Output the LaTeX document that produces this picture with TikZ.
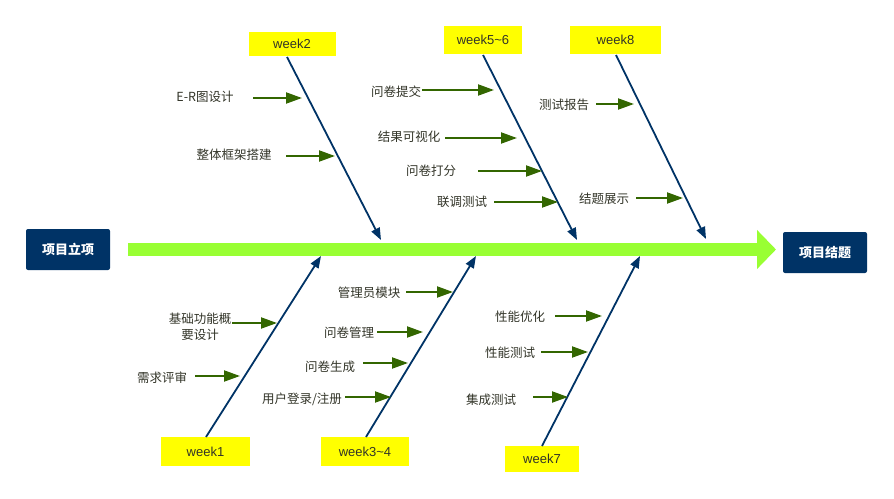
\documentclass[tikz,border=0pt]{standalone}
\usepackage{fontspec}
\setmainfont{Liberation Sans}
\newfontfamily\cjk{Noto Sans CJK SC}
\usetikzlibrary{arrows.meta}

\definecolor{navy}{RGB}{0,51,102}
\definecolor{spinegreen}{RGB}{153,255,51}
\definecolor{arrowgreen}{RGB}{51,102,0}
\definecolor{weekyellow}{RGB}{255,255,0}
\definecolor{labeltext}{RGB}{50,52,40}

\tikzset{
  endbox/.style={fill=navy, rounded corners=2pt, minimum width=84pt, minimum height=41pt,
    inner sep=0pt, text=white, font=\cjk\bfseries\fontsize{13pt}{15pt}\selectfont},
  weekbox/.style={fill=weekyellow, inner sep=0pt, text=labeltext,
    font=\fontsize{13pt}{15pt}\selectfont},
  cause/.style={inner sep=0pt, text=labeltext, align=center,
    font=\cjk\fontsize{12.5pt}{16pt}\selectfont},
  bone/.style={draw=navy, line width=1.8pt, -{Triangle[length=12pt,width=9pt]}},
  causearrow/.style={draw=arrowgreen, line width=2pt, -{Triangle[length=16pt,width=11pt]}},
  spine/.style={draw=spinegreen, line width=13pt, -{Triangle[length=19pt,width=38pt]}}
}

\begin{document}
\begin{tikzpicture}[x=1pt,y=-1pt]
\useasboundingbox (0,0) rectangle (894,498);

% start and end of the project
\node[endbox] (start) at (68,249.5) {项目立项};
\node[endbox] (finish) at (825,252.5) {项目结题};

% main spine
\coordinate (sp1) at (128,249.5);
\coordinate (sp2) at (776,249.5);
\draw[spine] (sp1) -- (sp2);

% week labels
\node[weekbox, minimum width=87pt, minimum height=24pt] (w2) at (292,44) {week2};
\node[weekbox, minimum width=78pt, minimum height=28pt] (w56) at (483,40) {week5\textasciitilde 6};
\node[weekbox, minimum width=91pt, minimum height=28pt] (w8) at (615.5,40) {week8};
\node[weekbox, minimum width=89pt, minimum height=29pt] (w1) at (205.5,451.5) {week1};
\node[weekbox, minimum width=88pt, minimum height=29pt] (w34) at (365,451.5) {week3\textasciitilde 4};
\node[weekbox, minimum width=74pt, minimum height=26pt] (w7) at (542,459) {week7};

% bones: from each week box toward the spine
\coordinate (b2a) at (287,57);   \coordinate (b2b) at (381,240);
\coordinate (b56a) at (483,55);  \coordinate (b56b) at (577,240);
\coordinate (b8a) at (616,55);   \coordinate (b8b) at (706,239);
\coordinate (b1a) at (206,437);  \coordinate (b1b) at (321,256);
\coordinate (b34a) at (366,437); \coordinate (b34b) at (476,256);
\coordinate (b7a) at (542,446);  \coordinate (b7b) at (640,256);
\draw[bone] (b2a) -- (b2b);
\draw[bone] (b56a) -- (b56b);
\draw[bone] (b8a) -- (b8b);
\draw[bone] (b1a) -- (b1b);
\draw[bone] (b34a) -- (b34b);
\draw[bone] (b7a) -- (b7b);

% causes above the spine
\node[cause] (c1) at (205,97) {E-R图设计};
\node[cause] (c2) at (234,155) {整体框架搭建};
\node[cause] (c3) at (396,92) {问卷提交};
\node[cause] (c4) at (409,137) {结果可视化};
\node[cause] (c5) at (431,171) {问卷打分};
\node[cause] (c6) at (462,202) {联调测试};
\node[cause] (c7) at (564,105) {测试报告};
\node[cause] (c8) at (604,199) {结题展示};

% causes below the spine
\node[cause] (d1) at (200,327) {基础功能概\\要设计};
\node[cause] (d2) at (162,378) {需求评审};
\node[cause] (d3) at (302,399) {用户登录/注册};
\node[cause] (d4) at (330,367) {问卷生成};
\node[cause] (d5) at (349,333) {问卷管理};
\node[cause] (d6) at (369,293) {管理员模块};
\node[cause] (d7) at (520,317) {性能优化};
\node[cause] (d8) at (510,353) {性能测试};
\node[cause] (d9) at (491,400) {集成测试};

% arrow ends for the causes
\coordinate (c1a) at (253,98);  \coordinate (c1b) at (302,98);
\coordinate (c2a) at (286,156); \coordinate (c2b) at (335,156);
\coordinate (c3a) at (422,90);  \coordinate (c3b) at (494,90);
\coordinate (c4a) at (445,138); \coordinate (c4b) at (517,138);
\coordinate (c5a) at (478,171); \coordinate (c5b) at (542,171);
\coordinate (c6a) at (494,202); \coordinate (c6b) at (558,202);
\coordinate (c7a) at (596,104); \coordinate (c7b) at (634,104);
\coordinate (c8a) at (636,198); \coordinate (c8b) at (683,198);
\coordinate (d1a) at (232,323); \coordinate (d1b) at (277,323);
\coordinate (d2a) at (195,376); \coordinate (d2b) at (240,376);
\coordinate (d3a) at (345,397); \coordinate (d3b) at (391,397);
\coordinate (d4a) at (363,363); \coordinate (d4b) at (408,363);
\coordinate (d5a) at (377,332); \coordinate (d5b) at (423,332);
\coordinate (d6a) at (406,292); \coordinate (d6b) at (453,292);
\coordinate (d7a) at (555,316); \coordinate (d7b) at (602,316);
\coordinate (d8a) at (541,352); \coordinate (d8b) at (588,352);
\coordinate (d9a) at (533,397); \coordinate (d9b) at (568,397);

\foreach \n in {c1,c2,c3,c4,c5,c6,c7,c8,d1,d2,d3,d4,d5,d6,d7,d8,d9}
  \draw[causearrow] (\n a) -- (\n b);
\end{tikzpicture}
\end{document}
